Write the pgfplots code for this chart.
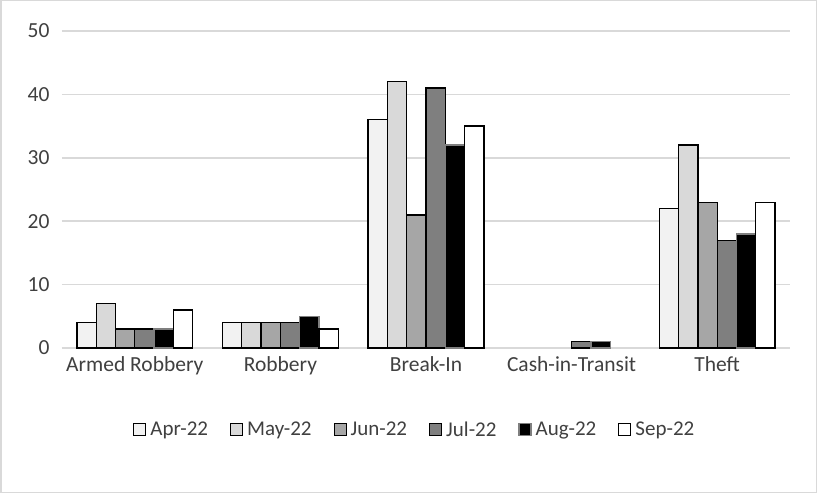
\documentclass[border=0pt]{standalone}
\usepackage{fontspec}
\setmainfont{Carlito}
\usepackage{pgfplots}
\pgfplotsset{compat=1.18}
\definecolor{txt}{HTML}{404040}
\definecolor{gridc}{HTML}{D9D9D9}
\definecolor{apr}{HTML}{F2F2F2}
\definecolor{may}{HTML}{D9D9D9}
\definecolor{jun}{HTML}{A6A6A6}
\definecolor{jul}{HTML}{7F7F7F}
\definecolor{augc}{HTML}{000000}
\definecolor{sep}{HTML}{FFFFFF}
\begin{document}
\begin{tikzpicture}[x=1pt,y=1pt]
% chart frame
\draw[gridc, line width=1.5pt, fill=white] (0.75,0.75) rectangle (816.25,492.25);
\begin{axis}[
    at={(62pt,145pt)}, anchor=south west,
    width=728pt, height=317pt, scale only axis,
    ybar=0pt, bar width=0.1326,
    xmin=-0.5, xmax=4.5, ymin=0, ymax=50,
    xtick={0,1,2,3,4},
    xticklabels={Armed Robbery, Robbery, Break-In, Cash-in-Transit, Theft},
    ytick={0,10,20,30,40,50},
    axis line style={draw=none},
    ymajorgrids, grid style={gridc, line width=1.5pt},
    major tick length=0pt,
    tick label style={font=\fontsize{21.5}{24}\selectfont, text=txt},
    yticklabel style={xshift=-9pt},
    xticklabel style={yshift=-5pt},
    /pgf/number format/assume math mode=true,
    clip=false,
    legend columns=-1,
    legend style={draw=none, fill=none, at={(0.484,-0.258)}, anchor=center,
        font=\fontsize{21}{24}\selectfont, text=txt,
        nodes={inner xsep=1pt},
        /tikz/every odd column/.append style={column sep=3pt},
        /tikz/every even column/.append style={column sep=21pt}},
    legend image code/.code={\draw[#1, line width=1.1pt] (0pt,-6pt) rectangle (12pt,6pt);},
    every axis plot/.append style={line width=1.3pt},
]
\draw[gridc, line width=1.5pt] (axis cs:-0.5,0) -- (axis cs:4.5,0);
\addplot[draw=black, fill=apr] coordinates {(0,4) (1,4) (2,36) (4,22)};
\addplot[draw=black, fill=may] coordinates {(0,7) (1,4) (2,42) (4,32)};
\addplot[draw=black, fill=jun] coordinates {(0,3) (1,4) (2,21) (4,23)};
\addplot[draw=black, fill=jul] coordinates {(0,3) (1,4) (2,41) (3,1) (4,17)};
\addplot[draw=jul, fill=augc] coordinates {(0,3) (1,5) (2,32) (3,1) (4,18)};
\addplot[draw=black, fill=sep] coordinates {(0,6) (1,3) (2,35) (4,23)};
\legend{Apr-22, May-22, Jun-22, Jul-22, Aug-22, Sep-22}
\end{axis}
\end{tikzpicture}
\end{document}
